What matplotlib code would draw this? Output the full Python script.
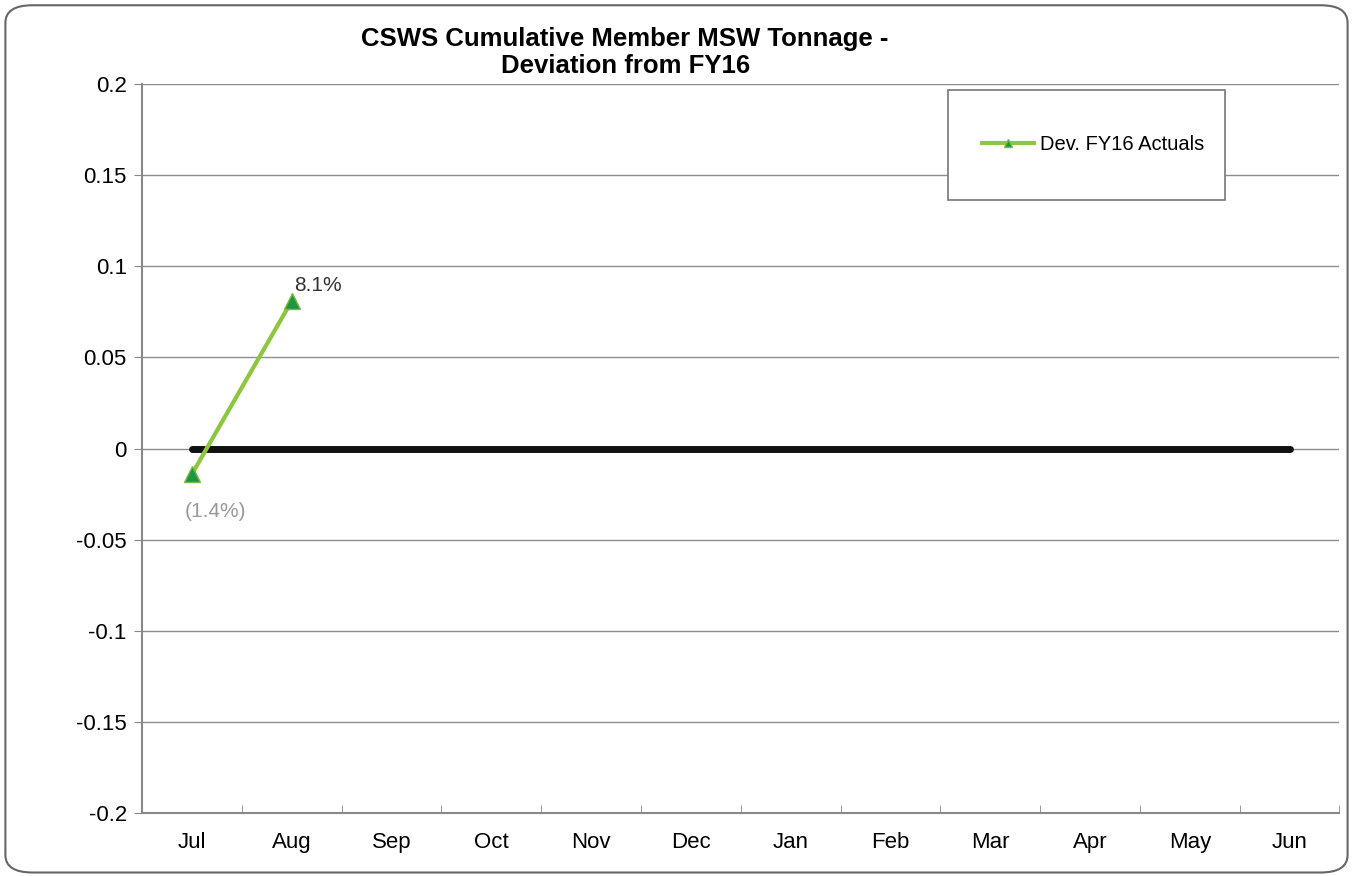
import matplotlib.pyplot as plt
from matplotlib.patches import FancyBboxPatch, Rectangle

months = ['Jul', 'Aug', 'Sep', 'Oct', 'Nov', 'Dec', 'Jan', 'Feb', 'Mar', 'Apr', 'May', 'Jun']
baseline = [0] * 12
dev_actuals = [-0.014, 0.081]
dev_labels = ['(1.4%)', '8.1%']

plt.rcParams['font.family'] = ['Liberation Sans', 'DejaVu Sans']

fig = plt.figure(figsize=(13.53, 8.76), dpi=100)
ax = fig.add_axes([0.105, 0.072, 0.885, 0.832])

x = list(range(len(months)))
ax.plot(x, baseline, color='#111111', linewidth=5, solid_capstyle='round', zorder=2)
ax.plot(x[:len(dev_actuals)], dev_actuals, color='#8dc63f', linewidth=3,
        marker='^', markersize=12, markerfacecolor='#1e9640', markeredgecolor='#7dbb3a',
        label='Dev. FY16 Actuals', zorder=3)

ax.annotate(dev_labels[1], (x[1], dev_actuals[1]), xytext=(2, 7), textcoords='offset points',
            fontsize=15, color='#333333')
ax.annotate(dev_labels[0], (x[0], dev_actuals[0]), xytext=(17, -20), textcoords='offset points',
            fontsize=15, color='#999999', ha='center', va='top')

ax.set_xlim(-0.5, 11.5)
ax.set_ylim(-0.2, 0.2)
ax.set_yticks([-0.2, -0.15, -0.1, -0.05, 0, 0.05, 0.1, 0.15, 0.2])
ax.set_yticklabels(['-0.2', '-0.15', '-0.1', '-0.05', '0', '0.05', '0.1', '0.15', '0.2'])
ax.set_xticks(x)
ax.set_xticklabels(months)
ax.set_xticks([i - 0.5 for i in range(13)], minor=True)
ax.tick_params(axis='x', which='major', length=0, pad=14, labelsize=16)
ax.tick_params(axis='x', which='minor', length=6, direction='in', color='#888888')
ax.tick_params(axis='y', length=6, color='#888888', labelsize=16, pad=5)
ax.grid(axis='y', color='#8c8c8c', linewidth=1)
ax.set_axisbelow(True)
for side in ['top', 'right']:
    ax.spines[side].set_visible(False)
for side in ['left', 'bottom']:
    ax.spines[side].set_color('#888888')
    ax.spines[side].set_linewidth(1.5)

# legend box drawn separately, legend itself has no frame
box = Rectangle((948 / 1353, 1 - 200 / 876), 277 / 1353, 110 / 876, transform=fig.transFigure,
                facecolor='white', edgecolor='#777777', linewidth=1.2, zorder=5, clip_on=False)
ax.add_patch(box)
leg = ax.legend(loc='center left', bbox_to_anchor=(972 / 1353, 1 - 145 / 876),
                bbox_transform=fig.transFigure, fontsize=14.5, frameon=False,
                handlelength=2.6, handletextpad=0.3, markerscale=0.5, borderpad=0)
leg.set_zorder(6)

fig.text(0.462, 0.940, 'CSWS Cumulative Member MSW Tonnage -\nDeviation from FY16',
         ha='center', va='center', fontsize=18.5, fontweight='bold', linespacing=1.2)

border = FancyBboxPatch((0.004, 0.004), 0.992, 0.99, boxstyle='round,pad=0,rounding_size=0.02',
                        transform=fig.transFigure, fill=False, edgecolor='#666666', linewidth=1.5)
fig.patches.append(border)

plt.savefig('out.png', dpi=100)
